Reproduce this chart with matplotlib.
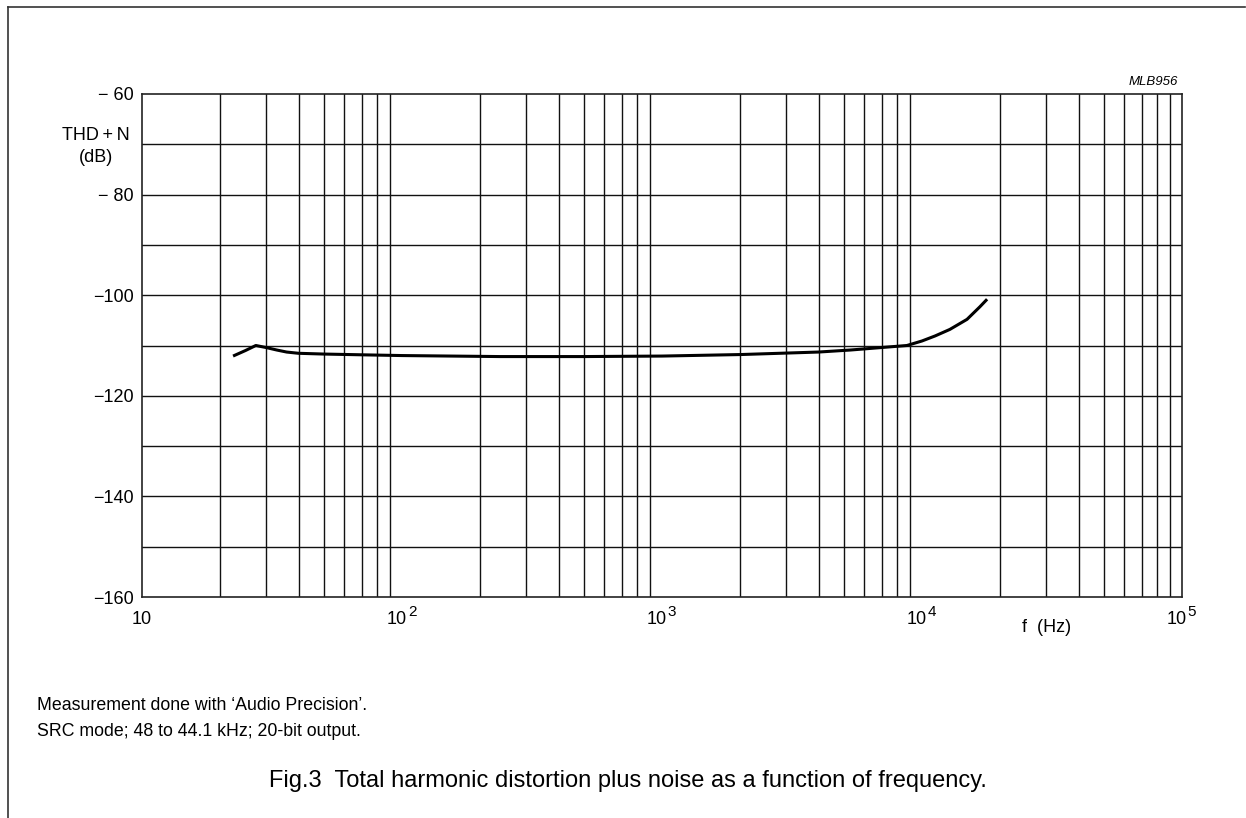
import numpy as np
import matplotlib
matplotlib.use("Agg")
from matplotlib import pyplot as plt
from matplotlib.lines import Line2D

plt.rcParams['font.family'] = ['Liberation Sans', 'DejaVu Sans']

# curve
freq_hz = [22.4, 25, 27.4, 30, 33, 36, 40, 50, 70, 100, 238, 500, 1000,
           2000, 4000, 5300, 7000, 8750, 10000, 11230, 12800, 14900, 16700,
           17800]
thd_db = [-112.1, -111.0, -110.0, -110.4, -110.9, -111.3, -111.55, -111.7,
          -111.85, -112.0, -112.2, -112.2, -112.1, -111.8, -111.3, -110.9,
          -110.4, -110.0, -109.1, -108.1, -106.8, -104.8, -102.3, -100.8]

y_ticks = [-60, -80, -100, -120, -140, -160]
y_labels = ['\u2212 60', '\u2212 80', '\u2212100', '\u2212120', '\u2212140', '\u2212160']
x_ticks = [10, 100, 1000, 10000, 100000]
x_exps = ['', '2', '3', '4', '5']

W, H = 1246, 818
fig = plt.figure(figsize=(W / 100, H / 100), dpi=100)
ax = fig.add_axes([142 / W, 1 - 597 / H, (1182 - 142) / W, (597 - 94) / H])

ax.set_xscale('log')
ax.set_xlim(10, 1e5)
ax.set_ylim(-160, -60)

# grid
for dec in [10, 100, 1000, 10000]:
    for m in range(2, 10):
        ax.axvline(dec * m, color='#111111', lw=1.0, zorder=1)
for yv in range(-150, -60, 10):
    ax.axhline(yv, color='#111111', lw=1.0, zorder=1)

ax.plot(freq_hz, thd_db, color='black', lw=2.2, zorder=3,
        solid_capstyle='butt', solid_joinstyle='round')

for s in ax.spines.values():
    s.set_linewidth(1.2)
    s.set_color('#222222')

ax.tick_params(axis='both', length=0, labelsize=13, pad=6)
ax.set_yticks(y_ticks)
ax.set_yticklabels(y_labels)
ax.set_xticks(x_ticks)
ax.set_xticklabels([])
ax.minorticks_off()

# x tick labels as 10 with a big superscript, like the datasheet
for t, e in zip(x_ticks, x_exps):
    if e == '':
        ax.annotate('10', xy=(t, 0), xycoords=('data', 'axes fraction'),
                    xytext=(0, -16.5), textcoords='offset points',
                    ha='center', va='center', fontsize=13)
    else:
        ax.annotate('10', xy=(t, 0), xycoords=('data', 'axes fraction'),
                    xytext=(-3.8, -16.5), textcoords='offset points',
                    ha='center', va='center', fontsize=13)
        ax.annotate(e, xy=(t, 0), xycoords=('data', 'axes fraction'),
                    xytext=(4.2, -10.6), textcoords='offset points',
                    ha='left', va='center', fontsize=11)

fig.text(96 / W, 1 - 135 / H, 'THD\u2009+\u2009N', ha='center', va='center',
         fontsize=13)
fig.text(96 / W, 1 - 157 / H, '(dB)', ha='center', va='center', fontsize=13)
fig.text(1047 / W, 1 - 628 / H, 'f  (Hz)', ha='center', va='center', fontsize=13)
fig.text(1178 / W, 1 - 82 / H, 'MLB956', ha='right', va='center', fontsize=9.5,
         style='italic')

fig.text(37 / W, 1 - 706 / H, 'Measurement done with \u2018Audio Precision\u2019.',
         ha='left', va='center', fontsize=12.8)
fig.text(37 / W, 1 - 732 / H, 'SRC mode; 48 to 44.1 kHz; 20-bit output.',
         ha='left', va='center', fontsize=12.8)
fig.text(628 / W, 1 - 781 / H,
         'Fig.3  Total harmonic distortion plus noise as a function of frequency.',
         ha='center', va='center', fontsize=17)

# page frame: top and left edges
fig.add_artist(Line2D([8 / W, 1245 / W], [1 - 7 / H, 1 - 7 / H],
                      transform=fig.transFigure, color='#333333', lw=1.2))
fig.add_artist(Line2D([8 / W, 8 / W], [1 - 7 / H, 0],
                      transform=fig.transFigure, color='#333333', lw=1.2))

fig.savefig('out.png', dpi=100)
